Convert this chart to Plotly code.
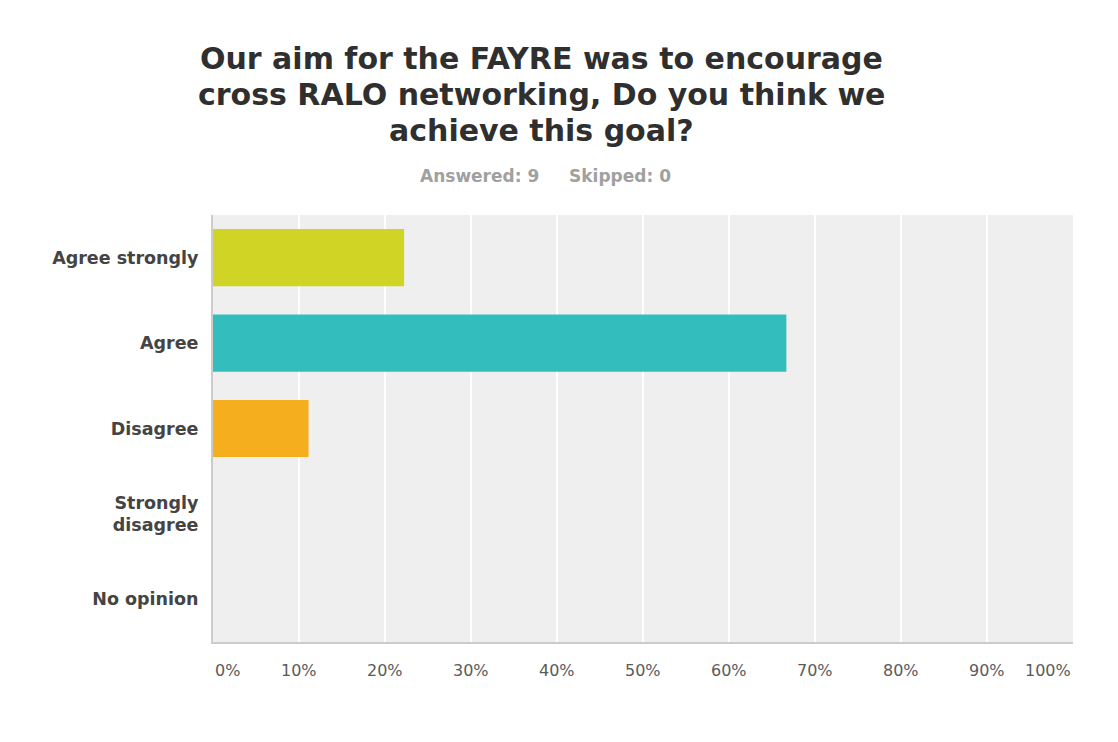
import plotly.graph_objects as go

categories = ["Agree strongly", "Agree", "Disagree", "Strongly<br>disagree", "No opinion"]
values = [22.22, 66.67, 11.11, 0, 0]
colors = ["#d0d425", "#33bdbd", "#f4ae1e", "#bbbbbb", "#bbbbbb"]
tick_vals = [0, 10, 20, 30, 40, 50, 60, 70, 80, 90, 100]
tick_text = ["0%", "10%", "20%", "30%", "40%", "50%", "60%", "70%", "80%", "90%", "100%"]
title_lines = ["Our aim for the FAYRE was to encourage",
               "cross RALO networking, Do you think we",
               "achieve this goal?"]
answered_text = "Answered: 9"
skipped_text = "Skipped: 0"

fig = go.Figure()
fig.add_trace(go.Bar(
    x=values, y=categories, orientation="h",
    marker=dict(color=colors, line=dict(width=0)),
    hoverinfo="x+y",
))

W, H = 1118, 742
L, R, T, B = 213, 45, 215, 100
PW, PH = W - L - R, H - T - B


def px_x(x):
    return (x - L) / PW


def px_y(y):
    return (H - B - y) / PH


annotations = []
for v, t in zip(tick_vals, tick_text):
    anchor = "center"
    if v == 0:
        anchor = "left"
    elif v == 100:
        anchor = "right"
    annotations.append(dict(
        x=v, y=0, xref="x", yref="paper", yanchor="top", yshift=-17,
        xanchor=anchor, text=t, showarrow=False,
        font=dict(family="DejaVu Sans", size=16, color="#5a5a5a"),
    ))

for line, ypix in zip(title_lines, [58, 95, 130]):
    annotations.append(dict(
        x=px_x(541), y=px_y(ypix), xref="paper", yref="paper",
        xanchor="center", yanchor="middle", showarrow=False,
        text="<b>" + line + "</b>",
        font=dict(family="DejaVu Sans", size=30, color="#2f2f2f"),
    ))

annotations.append(dict(
    x=px_x(541), y=px_y(176), xref="paper", yref="paper",
    xanchor="right", yanchor="middle", showarrow=False,
    text="<b>" + answered_text + "</b>",
    font=dict(family="DejaVu Sans", size=17, color="#a0a0a0"),
))
annotations.append(dict(
    x=px_x(567), y=px_y(176), xref="paper", yref="paper",
    xanchor="left", yanchor="middle", showarrow=False,
    text="<b>" + skipped_text + "</b>",
    font=dict(family="DejaVu Sans", size=17, color="#a0a0a0"),
))

fig.update_layout(
    width=W, height=H,
    margin=dict(l=L, r=R, t=T, b=B, pad=0),
    paper_bgcolor="white",
    plot_bgcolor="#efefef",
    showlegend=False,
    bargap=0.33,
    xaxis=dict(
        range=[0, 100], tickvals=tick_vals, showticklabels=False,
        showgrid=True, gridcolor="white", gridwidth=2,
        zeroline=False, showline=True, linecolor="#cccccc", linewidth=2,
        fixedrange=True,
    ),
    yaxis=dict(
        autorange="reversed", categoryorder="array", categoryarray=categories,
        showgrid=False, zeroline=False, showline=True, linecolor="#cccccc", linewidth=2,
        ticks="outside", ticklen=9, tickcolor="rgba(0,0,0,0)",
        tickfont=dict(family="DejaVu Sans", size=17.5, color="#444444", weight="bold"),
        fixedrange=True,
    ),
    annotations=annotations,
)

fig.write_html("out.html")
